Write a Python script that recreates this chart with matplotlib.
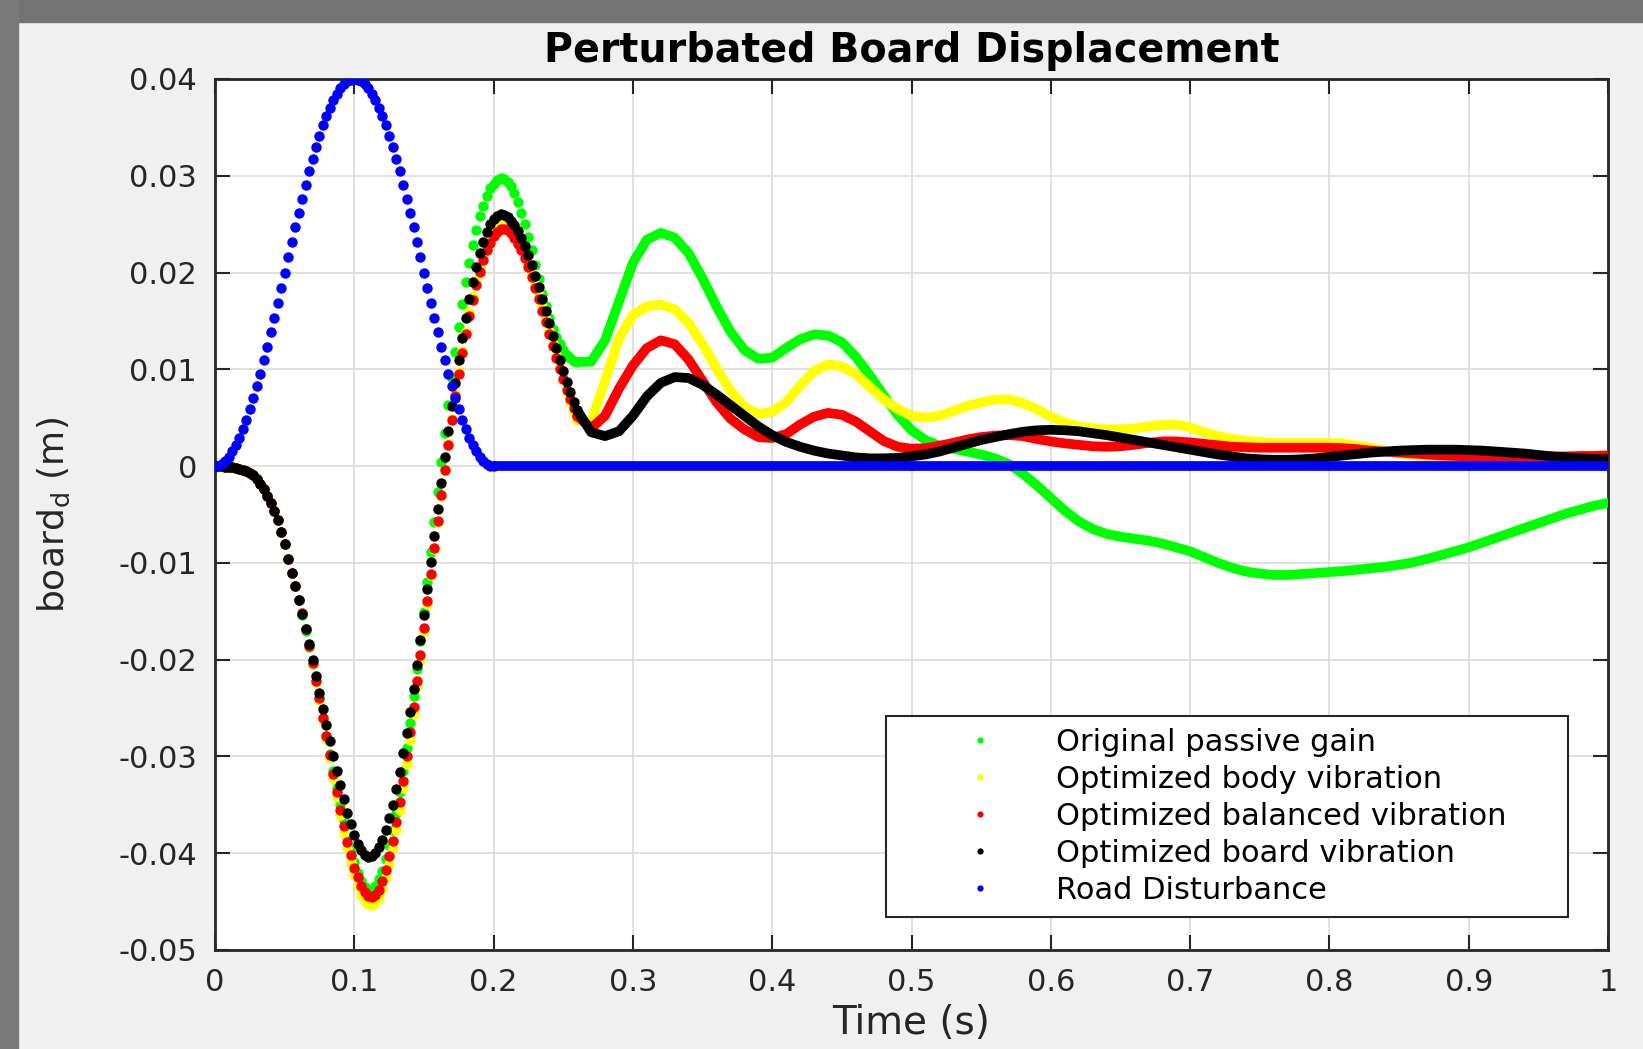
import numpy as np
import matplotlib
matplotlib.use('Agg')
import matplotlib.pyplot as plt
from matplotlib.lines import Line2D
from matplotlib.patches import Rectangle

# sample steps (dots are dense, 2.5 ms apart early on)
DT_EARLY = 0.0025
DT_LATE = 0.01
T_SPLIT = 0.26

# board displacement, mm, t = 0 .. 0.06 s (all four responses overlap here)
start_mm = [0.0, 0.0, -0.02, -0.05, -0.08, -0.13, -0.2, -0.28, -0.38, -0.52,
            -0.7, -0.92, -1.3, -1.8, -2.4, -3.1, -3.8, -4.6, -5.6, -6.8,
            -8.1, -9.6, -11.0, -12.4, -13.8]

# t = 0.0625 .. 0.26 s
green_mm = start_mm + [
    -15.4, -17.0, -18.7, -20.4, -22.2, -24.1, -26.0, -27.9, -29.7, -31.5,
    -33.3, -35.0, -36.6, -38.2, -39.6, -40.9, -42.0, -42.9, -43.5, -43.9,
    -43.8, -43.4, -42.7, -41.8, -40.6, -39.2, -37.6, -35.8, -33.7, -31.5,
    -29.1, -26.5, -23.8, -21.0, -18.1, -15.1, -12.0, -8.9, -5.8, -2.7,
    0.4, 3.4, 6.3, 9.1, 11.8, 14.4, 16.8, 19.0, 21.0, 22.8,
    24.4, 25.8, 26.9, 27.9, 28.7, 29.2, 29.6, 29.8,
    29.7, 29.4, 28.9, 28.2, 27.3, 26.2, 25.0, 23.7, 22.3, 20.8,
    19.3, 17.8, 16.5, 15.3, 14.2, 13.3, 12.6, 12.0, 11.5, 11.2, 10.9, 10.75]

yellow_mm = start_mm + [
    -15.2, -16.8, -18.6, -20.4, -22.3, -24.2, -26.2, -28.2, -30.2, -32.2,
    -34.2, -36.1, -37.9, -39.5, -41.0, -42.3, -43.4, -44.3, -44.9, -45.2, -45.3,
    -45.1, -44.6, -43.7, -42.5, -41.1, -39.5, -37.6, -35.5, -33.3, -30.8,
    -28.3, -25.6, -22.8, -20.0, -17.1, -14.2, -11.3, -8.6, -5.8, -3.1,
    -0.4, 2.3, 4.9, 7.4, 9.7, 11.9, 13.9, 15.9, 17.6, 19.2,
    20.6, 21.8, 22.8, 23.6, 24.3, 24.7, 24.95, 25.0,
    24.85, 24.55, 24.1, 23.5, 22.8, 21.95, 21.0, 19.95, 18.85, 17.7,
    16.5, 15.25, 14.0, 12.75, 11.5, 10.2, 8.9, 7.7, 6.6, 5.6, 4.8]

red_mm = start_mm + [
    -15.2, -16.8, -18.6, -20.3, -22.2, -24.0, -26.0, -27.9, -29.8, -31.8,
    -33.7, -35.5, -37.2, -38.8, -40.2, -41.5, -42.5, -43.4, -44.0, -44.4, -44.5,
    -44.3, -43.8, -42.9, -41.7, -40.3, -38.7, -36.8, -34.7, -32.5, -30.0,
    -27.5, -24.9, -22.2, -19.5, -16.7, -13.9, -11.1, -8.5, -5.7, -3.0,
    -0.4, 2.2, 4.8, 7.25, 9.5, 11.65, 13.6, 15.55, 17.15, 18.7,
    20.1, 21.3, 22.3, 23.1, 23.8, 24.2, 24.45, 24.5,
    24.35, 24.05, 23.6, 23.0, 22.3, 21.5, 20.55, 19.5, 18.4, 17.25,
    16.05, 14.85, 13.6, 12.4, 11.2, 10.05, 8.95, 7.9, 6.9, 6.0, 5.2]

black_mm = start_mm + [
    -15.3, -16.8, -18.4, -20.0, -21.7, -23.4, -25.1, -26.8, -28.4, -30.0,
    -31.5, -33.0, -34.4, -35.8, -37.0, -38.1, -39.0, -39.7, -40.2, -40.4,
    -40.29, -39.95, -39.38, -38.6, -37.6, -36.4, -34.99, -33.4, -31.63, -29.69,
    -27.59, -25.36, -23.01, -20.56, -18.02, -15.35, -12.66, -9.94, -7.2, -4.46,
    -1.74, 0.95, 3.62, 6.16, 8.61, 10.96, 13.19, 15.29, 17.23, 19.0,
    20.59, 22.0, 23.2, 24.2, 24.98, 25.55, 25.89, 26.0,
    25.93, 25.72, 25.37, 24.89, 24.29, 23.56, 22.72, 21.78, 20.76, 19.65,
    18.48, 17.27, 16.02, 14.75, 13.48, 12.23, 11.0, 9.81, 8.68, 7.62, 6.65, 5.77]

# t = 0.26 .. 1.00 s every 10 ms
green_late_mm = [
    10.75, 10.8, 13.0, 17.0, 21.0, 23.4, 24.1, 23.6, 22.0, 19.4,
    16.5, 13.9, 12.0, 11.1, 11.2, 12.2, 13.1, 13.6, 13.5, 12.8,
    11.3, 9.4, 7.3, 5.3, 3.7, 2.7, 2.1, 1.8, 1.5, 1.2,
    0.8, 0.2, -0.8, -2.0, -3.3, -4.6, -5.7, -6.5, -7.0, -7.3,
    -7.5, -7.7, -8.0, -8.4, -8.8, -9.4, -10.0, -10.5, -10.9, -11.1,
    -11.25, -11.25, -11.15, -11.05, -10.95, -10.85, -10.7, -10.55, -10.4, -10.2,
    -9.95, -9.6, -9.2, -8.8, -8.4, -7.9, -7.4, -6.9, -6.4, -5.9,
    -5.4, -4.9, -4.5, -4.1, -3.8]

yellow_late_mm = [
    4.8, 4.6, 8.8, 13.2, 15.6, 16.5, 16.7, 16.2, 14.8, 12.6,
    10.1, 7.8, 6.1, 5.4, 5.6, 6.6, 8.3, 9.8, 10.5, 10.3,
    9.5, 8.2, 6.9, 5.9, 5.2, 5.0, 5.2, 5.7, 6.2, 6.6,
    6.85, 6.9, 6.5, 5.9, 5.1, 4.5, 4.1, 3.9, 3.8, 3.8,
    3.9, 4.1, 4.25, 4.3, 4.0, 3.5, 3.1, 2.8, 2.6, 2.5,
    2.4, 2.4, 2.4, 2.4, 2.4, 2.3, 2.1, 1.9, 1.6, 1.3,
    1.1, 0.9, 0.8, 0.75, 0.7, 0.7, 0.65, 0.6, 0.6, 0.55,
    0.55, 0.5, 0.5, 0.5, 0.5]

red_late_mm = [
    5.2, 3.9, 5.2, 8.0, 10.4, 12.2, 13.0, 12.6, 11.0, 8.8,
    6.6, 4.9, 3.8, 3.0, 2.9, 3.3, 4.3, 5.1, 5.5, 5.3,
    4.6, 3.6, 2.6, 2.0, 1.8, 1.85, 2.1, 2.4, 2.75, 3.0,
    3.15, 3.2, 3.1, 2.8, 2.55, 2.35, 2.2, 2.05, 2.0, 2.05,
    2.2, 2.4, 2.55, 2.55, 2.45, 2.3, 2.15, 2.0, 1.95, 1.9,
    1.9, 1.9, 1.9, 1.9, 1.9, 1.85, 1.75, 1.6, 1.5, 1.4,
    1.3, 1.2, 1.1, 1.05, 1.0, 1.0, 1.0, 1.0, 1.0, 1.0,
    1.0, 1.0, 1.05, 1.05, 1.1]

black_late_mm = [
    5.77, 3.5, 3.1, 3.6, 5.2, 7.2, 8.6, 9.2, 9.1, 8.4,
    7.4, 6.3, 5.2, 4.1, 3.2, 2.5, 2.0, 1.6, 1.3, 1.1,
    0.9, 0.8, 0.8, 0.85, 1.0, 1.2, 1.5, 1.9, 2.3, 2.7,
    3.0, 3.3, 3.55, 3.7, 3.75, 3.7, 3.6, 3.4, 3.2, 2.95,
    2.7, 2.45, 2.2, 1.95, 1.7, 1.45, 1.2, 1.0, 0.8, 0.7,
    0.65, 0.65, 0.7, 0.8, 0.95, 1.1, 1.25, 1.4, 1.5, 1.6,
    1.65, 1.7, 1.7, 1.7, 1.65, 1.6, 1.5, 1.4, 1.3, 1.15,
    1.0, 0.9, 0.8, 0.75, 0.7]

# road bump, mm, t = 0 .. 0.2 s
road_mm = [0.0, 0.06, 0.25, 0.55, 0.98, 1.52, 2.18, 2.95, 3.82, 4.79,
           5.86, 7.01, 8.24, 9.55, 10.92, 12.35, 13.82, 15.33, 16.87, 18.43,
           20.0, 21.57, 23.13, 24.67, 26.18, 27.65, 29.08, 30.45, 31.76, 32.99,
           34.14, 35.21, 36.18, 37.05, 37.82, 38.48, 39.02, 39.45, 39.75, 39.94,
           40.0, 39.94, 39.75, 39.45, 39.02, 38.48, 37.82, 37.05, 36.18, 35.21,
           34.14, 32.99, 31.76, 30.45, 29.08, 27.65, 26.18, 24.67, 23.13, 21.57,
           20.0, 18.43, 16.87, 15.33, 13.82, 12.35, 10.92, 9.55, 8.24, 7.01,
           5.86, 4.79, 3.82, 2.95, 2.18, 1.52, 0.98, 0.55, 0.25, 0.06, 0.0]
# flat after the bump, t = 0.2 .. 1.0 s
road_late_mm = [0.0] * 81

labels = ['Original passive gain', 'Optimized body vibration',
          'Optimized balanced vibration', 'Optimized board vibration',
          'Road Disturbance']
colors = ['#00ff00', '#ffff00', '#ff0000', '#000000', '#0000ff']

xticks = [0, 0.1, 0.2, 0.3, 0.4, 0.5, 0.6, 0.7, 0.8, 0.9, 1.0]
xticklabels = ['0', '0.1', '0.2', '0.3', '0.4', '0.5', '0.6', '0.7', '0.8', '0.9', '1']
yticks = [-0.05, -0.04, -0.03, -0.02, -0.01, 0, 0.01, 0.02, 0.03, 0.04]
yticklabels = ['-0.05', '-0.04', '-0.03', '-0.02', '-0.01', '0', '0.01', '0.02', '0.03', '0.04']


def main():
    plt.rcParams['font.family'] = ['DejaVu Sans']
    plt.rcParams['mathtext.fontset'] = 'dejavusans'

    early = [green_mm, yellow_mm, red_mm, black_mm]
    late = [green_late_mm, yellow_late_mm, red_late_mm, black_late_mm]
    for a in early:
        assert len(a) == 105, len(a)
    for a in late:
        assert len(a) == 75, len(a)

    fig = plt.figure(figsize=(16.43, 10.49), dpi=100, facecolor='#f0f0f0')
    # dark window border, top and left
    fig.patches.append(Rectangle((0, 1 - 22 / 1049), 1, 22 / 1049,
                                 transform=fig.transFigure, color='#737373', zorder=0))
    fig.patches.append(Rectangle((0, 0), 18 / 1643, 1,
                                 transform=fig.transFigure, color='#7a7a7a', zorder=0))

    ax = fig.add_axes([0.13086, 0.09438, 0.84784, 0.83032])
    ax.set_facecolor('white')

    for i in range(4):
        t1 = np.arange(len(early[i])) * DT_EARLY
        t2 = T_SPLIT + np.arange(len(late[i])) * DT_LATE
        ax.plot(t1, np.array(early[i]) / 1000, ls='none', marker='o', ms=7.5,
                mew=0, color=colors[i], zorder=3 + i)
        ax.plot(t2, np.array(late[i]) / 1000, '-', lw=7, color=colors[i],
                solid_capstyle='round', solid_joinstyle='round', zorder=3 + i)

    tr1 = np.arange(len(road_mm)) * DT_EARLY
    tr2 = 0.2 + np.arange(len(road_late_mm)) * DT_LATE
    ax.plot(tr1, np.array(road_mm) / 1000, ls='none', marker='o', ms=7.5,
            mew=0, color=colors[4], zorder=8)
    ax.plot(tr2, np.array(road_late_mm) / 1000, '-', lw=7, color=colors[4],
            solid_capstyle='round', zorder=8)

    ax.set_xlim(0, 1)
    ax.set_ylim(-0.05, 0.04)
    ax.set_xticks(xticks)
    ax.set_xticklabels(xticklabels)
    ax.set_yticks(yticks)
    ax.set_yticklabels(yticklabels)
    ax.tick_params(direction='in', length=11, width=1.5, top=True, right=True,
                   labelsize=22, pad=13, color='#262626', labelcolor='#262626')
    ax.grid(True, color='#dcdcdc', lw=1.2)
    ax.set_axisbelow(True)
    for s in ax.spines.values():
        s.set_linewidth(2.0)
        s.set_color('#262626')

    ax.set_title('Perturbated Board Displacement', fontsize=28.5,
                 fontweight='bold', pad=12, color='black')
    ax.set_xlabel('Time (s)', fontsize=28, color='#262626')
    ax.xaxis.set_label_coords(0.5, -0.062)
    ax.set_ylabel(r'board$_\mathregular{d}$ (m)', fontsize=26, color='#262626',
                  va='center')
    ax.yaxis.set_label_coords(-0.116, 0.5)

    handles = [Line2D([], [], ls='none', marker='o', ms=4.5, mew=0, color=c)
               for c in colors]
    leg = ax.legend(handles, labels, loc='upper left',
                    bbox_to_anchor=(0.482, 0.0367, 0.489, 0.232), mode='expand',
                    borderaxespad=0, fontsize=22, frameon=True, fancybox=False,
                    borderpad=0.4, labelspacing=0.26, handlelength=5.3,
                    handletextpad=-0.15)
    leg.get_frame().set_edgecolor('#262626')
    leg.get_frame().set_linewidth(1.5)
    leg.get_frame().set_alpha(1)
    leg.set_zorder(20)

    fig.savefig('out.png', dpi=100, facecolor=fig.get_facecolor())


if __name__ == "__main__":
    main()
